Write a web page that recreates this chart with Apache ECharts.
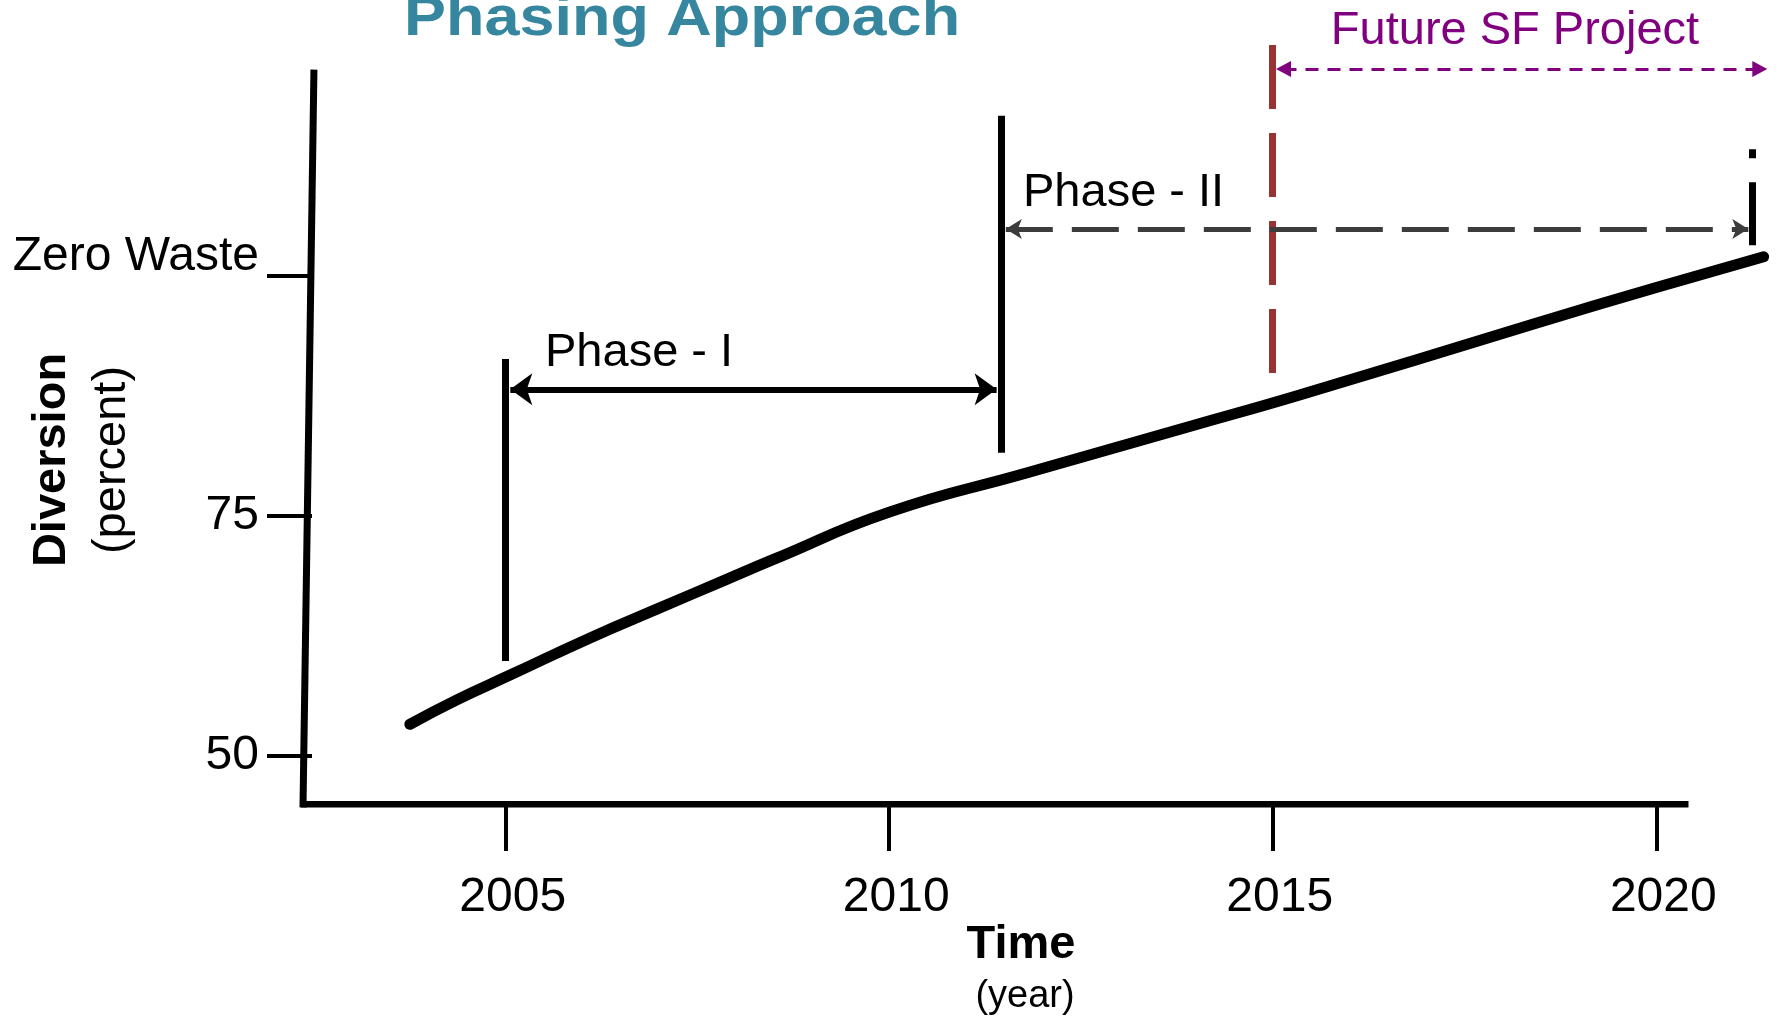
<!DOCTYPE html>
<html>
<head>
<meta charset="utf-8">
<title>Phasing Approach</title>
<script src="https://cdn.jsdelivr.net/npm/echarts@6/dist/echarts.min.js"></script>
<style>
  html, body { margin: 0; padding: 0; background: #fff; }
  #chart { width: 1779px; height: 1017px; }
</style>
</head>
<body>
<div id="chart"></div>
<script>
// diversion curve (year, percent)
var years = [2003.75, 2004.35, 2005.05, 2006.1, 2007.0, 2007.85, 2008.5, 2010.0, 2011.8, 2013.95, 2015.35, 2018.4, 2020.0, 2021.4];
var diversion = [53.3, 55.8, 58.4, 62.3, 65.4, 68.3, 70.5, 75.4, 79.5, 84.4, 87.6, 95.0, 98.8, 102.0];

// axis ticks
var yearTicks = [2005, 2010, 2015, 2020];
var percentTicks = [50, 75, 100];
var percentLabels = { 50: '50', 75: '75', 100: 'Zero Waste' };

// annotation segments [[year, percent], [year, percent]]
var xAxisLine = [[2002.33, 45], [2020.42, 45]];
var yAxisLine = [[2002.357, 44.6], [2002.5, 121.5]];
var phase1Bar = [[2005, 59.9], [2005, 91.35]];
var phase2Bar = [[2011.46, 81.6], [2011.46, 116.7]];
var phase1Arrow = [[2005.06, 88.2], [2011.4, 88.2]];
var phase2Arrow = [[2011.52, 104.9], [2021.2, 104.9]];
var endBar = [[2021.25, 103.2], [2021.25, 113.2]];
var futureBar = [[2015, 124.06], [2015, 89.9]];
var futureArrow = [[2015.14, 121.56], [2021.35, 121.56]];

var FONT = '"Liberation Sans", Arial, Helvetica, sans-serif';

var chart = echarts.init(document.getElementById('chart'));

function seg(name, coords, style, extra) {
  var s = {
    type: 'lines',
    name: name,
    coordinateSystem: 'cartesian2d',
    data: [{ coords: coords }],
    lineStyle: style,
    symbol: 'none',
    silent: true,
    z: 3
  };
  for (var k in extra) s[k] = extra[k];
  return s;
}

var option = {
  backgroundColor: '#fff',
  animation: false,
  grid: { left: 298.6, top: 36, width: 1482.2, height: 768 },
  xAxis: {
    type: 'value',
    min: 2002.3,
    max: 2021.6,
    axisLine: { show: false },
    splitLine: { show: false },
    axisTick: {
      show: true,
      customValues: yearTicks,
      length: 47,
      lineStyle: { color: '#000', width: 4 }
    },
    axisLabel: {
      customValues: yearTicks,
      margin: 70,
      padding: [0, 0, 0, 14],
      fontSize: 48,
      fontFamily: FONT,
      color: '#000',
      formatter: function (v) { return String(v); }
    }
  },
  yAxis: {
    type: 'value',
    min: 45,
    max: 125,
    offset: -13.4,
    axisLine: { show: false },
    splitLine: { show: false },
    axisTick: {
      show: true,
      customValues: percentTicks,
      length: 45,
      lineStyle: { color: '#000', width: 4 }
    },
    axisLabel: {
      customValues: percentTicks,
      margin: 53,
      fontSize: 48,
      fontFamily: FONT,
      color: '#000',
      formatter: function (v) {
        return v === 100 ? '{zw|' + percentLabels[v] + '}' : percentLabels[v];
      },
      rich: {
        zw: { fontSize: 48, fontFamily: FONT, color: '#000', padding: [0, 0, 38, 0] }
      }
    }
  },
  graphic: [
    { type: 'text', x: 404, y: 20, scaleX: 1.124,
      style: { text: 'Phasing Approach', font: 'bold 56px ' + FONT, fill: '#35869e', align: 'left', verticalAlign: 'middle' } },
    { type: 'text', x: 1515, y: 31, style: { text: 'Future SF Project', font: '47px ' + FONT, fill: '#800080', align: 'center', verticalAlign: 'middle' } },
    { type: 'text', x: 545, y: 353, style: { text: 'Phase - I', font: '47px ' + FONT, fill: '#000', align: 'left', verticalAlign: 'middle' } },
    { type: 'text', x: 1023, y: 193, style: { text: 'Phase - II', font: '47px ' + FONT, fill: '#000', align: 'left', verticalAlign: 'middle' } },
    { type: 'text', x: 52, y: 460, rotation: Math.PI / 2,
      style: { text: 'Diversion', font: 'bold 47px ' + FONT, fill: '#000', align: 'center', verticalAlign: 'middle' } },
    { type: 'text', x: 112, y: 460, rotation: Math.PI / 2,
      style: { text: '(percent)', font: '47px ' + FONT, fill: '#000', align: 'center', verticalAlign: 'middle' } },
    { type: 'text', x: 1021, y: 945, style: { text: 'Time', font: 'bold 47px ' + FONT, fill: '#000', align: 'center', verticalAlign: 'middle' } },
    { type: 'text', x: 1025, y: 997, style: { text: '(year)', font: '38px ' + FONT, fill: '#000', align: 'center', verticalAlign: 'middle' } }
  ],
  series: [
    seg('x axis', xAxisLine, { color: '#000', width: 7, opacity: 1 }),
    seg('y axis', yAxisLine, { color: '#000', width: 7, opacity: 1 }),
    seg('phase I start', phase1Bar, { color: '#000', width: 7, opacity: 1 }),
    seg('phase II start', phase2Bar, { color: '#000', width: 7, opacity: 1 }),
    seg('future start', futureBar, { color: '#993333', width: 7, opacity: 1, type: [64, 24] }),
    seg('phase II end', endBar, { color: '#000', width: 7, opacity: 1, type: [63, 24] }),
    seg('phase I', phase1Arrow, { color: '#000', width: 6, opacity: 1 },
      { symbol: ['arrow', 'arrow'], symbolSize: [[24, 22], [24, 22]] }),
    seg('phase II', phase2Arrow, { color: '#3c3c3c', width: 5, opacity: 1, type: [47, 19] },
      { symbol: ['arrow', 'arrow'], symbolSize: [[15, 16], [15, 16]] }),
    seg('future SF project', futureArrow, { color: '#800080', width: 3, opacity: 1, type: [13, 9] },
      { symbol: ['triangle', 'triangle'], symbolSize: [[16, 15], [16, 15]] }),
    {
      type: 'line',
      name: 'Diversion',
      data: years.map(function (y, i) { return [y, diversion[i]]; }),
      smooth: 0.5,
      showSymbol: false,
      silent: true,
      z: 5,
      lineStyle: { color: '#000', width: 11, cap: 'round' }
    }
  ]
};

chart.setOption(option);
</script>
</body>
</html>
